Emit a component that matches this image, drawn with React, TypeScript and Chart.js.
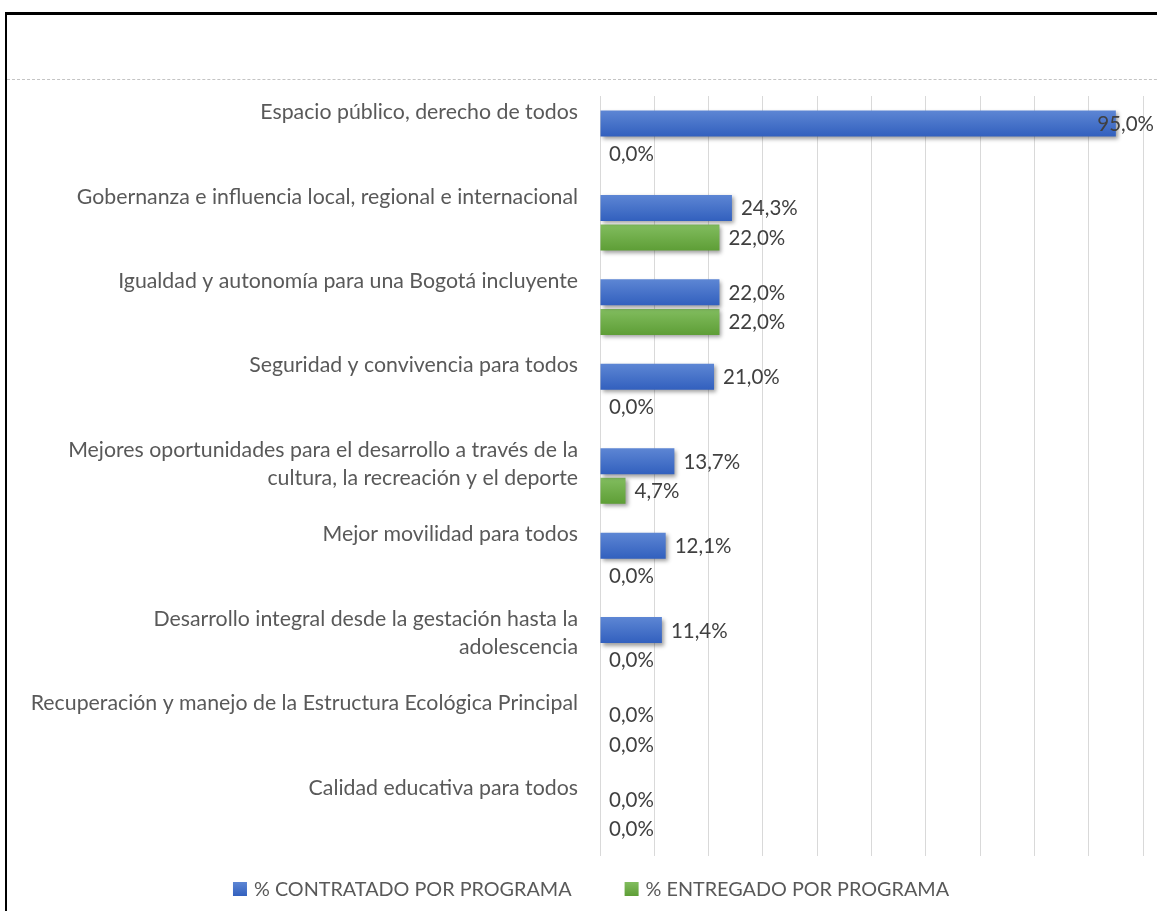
import React, { useEffect, useRef } from "react";
import { Chart, registerables } from "chart.js";

Chart.register(...registerables);

// ---------- data ----------
const categoryLabels: string[][] = [
  ["Espacio público, derecho de todos", ""],
  ["Gobernanza e influencia local, regional e internacional", ""],
  ["Igualdad y autonomía para una Bogotá incluyente", ""],
  ["Seguridad y convivencia para todos", ""],
  ["Mejores oportunidades para el desarrollo a través de la", "cultura, la recreación y el deporte"],
  ["Mejor movilidad para todos", ""],
  ["Desarrollo integral desde la gestación hasta la", "adolescencia"],
  ["Recuperación y manejo de la Estructura Ecológica Principal", ""],
  ["Calidad educativa para todos", ""],
];
const seriesNames = ["% CONTRATADO POR PROGRAMA", "% ENTREGADO POR PROGRAMA"];
const contratado = [95.0, 24.3, 22.0, 21.0, 13.7, 12.1, 11.4, 0.0, 0.0];
const entregado = [0.0, 22.0, 22.0, 0.0, 4.7, 0.0, 0.0, 0.0, 0.0];
const xMin = 0;
const xMax = 100;
const xStep = 10;

// ---------- style ----------
const FONT = "Lato, 'Open Sans', sans-serif";
const CAT_FONT_SIZE = 21.3;
const VALUE_FONT_SIZE = 20.5;
const LEGEND_FONT_SIZE = 19.8;
const LEGEND_CENTER_X = 591;
const LEGEND_CENTER_Y = 889;
const LABEL_COLOR = "#595959";
const VALUE_COLOR = "#404040";
const GRID_COLOR = "#d9d9d9";
const SERIES_COLORS = [
  { top: "#5d86d4", bottom: "#3260be", solid: "#4472c4" },
  { top: "#82bd5f", bottom: "#5e9e36", solid: "#70ad47" },
];

const fmt = (v: number) => v.toFixed(1).replace(".", ",") + "%";

const gradientPlugin = {
  id: "barGradient",
  beforeDatasetsDraw(chart: any) {
    const ctx = chart.ctx;
    chart.data.datasets.forEach((_: any, di: number) => {
      const meta = chart.getDatasetMeta(di);
      const c = SERIES_COLORS[di];
      meta.data.forEach((el: any) => {
        const h = el.height || 1;
        const g = ctx.createLinearGradient(0, el.y - h / 2, 0, el.y + h / 2);
        g.addColorStop(0, c.top);
        g.addColorStop(1, c.bottom);
        el.options = { ...el.options, backgroundColor: g };
      });
    });
  },
  beforeDatasetDraw(chart: any) {
    const ctx = chart.ctx;
    ctx.save();
    ctx.shadowColor = "rgba(0,0,0,0.38)";
    ctx.shadowBlur = 4;
    ctx.shadowOffsetX = 2;
    ctx.shadowOffsetY = 2.5;
  },
  afterDatasetDraw(chart: any) {
    chart.ctx.restore();
  },
};

const valueLabelPlugin = {
  id: "valueLabels",
  afterDatasetsDraw(chart: any) {
    const ctx = chart.ctx;
    const limit = chart.chartArea.right + 11;
    ctx.save();
    ctx.font = `${VALUE_FONT_SIZE}px ${FONT}`;
    ctx.fillStyle = VALUE_COLOR;
    ctx.textBaseline = "middle";
    ctx.textAlign = "left";
    chart.data.datasets.forEach((ds: any, di: number) => {
      const meta = chart.getDatasetMeta(di);
      meta.data.forEach((el: any, i: number) => {
        const text = fmt(ds.data[i]);
        const w = ctx.measureText(text).width;
        let x = el.x + 9;
        if (x + w > limit) x = limit - w;
        ctx.fillText(text, x, el.y + 1);
      });
    });
    ctx.restore();
  },
};

const legendPlugin = {
  id: "customLegend",
  afterDraw(chart: any) {
    const ctx = chart.ctx;
    const box = 14;
    const textGap = 7;
    const itemGap = 53;
    const cy = LEGEND_CENTER_Y;
    ctx.save();
    ctx.font = `${LEGEND_FONT_SIZE}px ${FONT}`;
    const widths = chart.data.datasets.map(
      (ds: any) => box + textGap + ctx.measureText(ds.label).width
    );
    const total = widths.reduce((a: number, b: number) => a + b, 0) + itemGap * (widths.length - 1);
    let x = LEGEND_CENTER_X - total / 2;
    chart.data.datasets.forEach((ds: any, di: number) => {
      const c = SERIES_COLORS[di];
      const g = ctx.createLinearGradient(0, cy - box / 2, 0, cy + box / 2);
      g.addColorStop(0, c.top);
      g.addColorStop(1, c.bottom);
      ctx.fillStyle = g;
      ctx.fillRect(x, cy - box / 2, box, box);
      ctx.fillStyle = LABEL_COLOR;
      ctx.textBaseline = "middle";
      ctx.textAlign = "left";
      ctx.fillText(ds.label, x + box + textGap, cy + 1);
      x += widths[di] + itemGap;
    });
    ctx.restore();
  },
};

export default function App() {
  const canvasRef = useRef<HTMLCanvasElement | null>(null);

  useEffect(() => {
    if (!canvasRef.current) return;
    const chart = new Chart(canvasRef.current, {
      type: "bar",
      data: {
        labels: categoryLabels,
        datasets: [
          {
            label: seriesNames[0],
            data: contratado,
            backgroundColor: SERIES_COLORS[0].solid,
            categoryPercentage: 0.7,
            barPercentage: 0.88,
          },
          {
            label: seriesNames[1],
            data: entregado,
            backgroundColor: SERIES_COLORS[1].solid,
            categoryPercentage: 0.7,
            barPercentage: 0.88,
          },
        ],
      },
      options: {
        indexAxis: "y",
        responsive: false,
        maintainAspectRatio: false,
        animation: false,
        events: [],
        layout: { padding: { top: 96, bottom: 55, left: 8, right: 14 } },
        plugins: {
          legend: { display: false },
          title: { display: false },
          tooltip: { enabled: false },
        },
        scales: {
          x: {
            type: "linear",
            position: "bottom",
            min: xMin,
            max: xMax,
            ticks: { display: false, stepSize: xStep },
            grid: { color: GRID_COLOR, lineWidth: 1, drawTicks: false },
            border: { display: false },
          },
          y: {
            type: "category",
            position: "left",
            grid: { display: false, drawTicks: false },
            border: { display: false },
            ticks: {
              color: LABEL_COLOR,
              font: { family: FONT, size: CAT_FONT_SIZE, lineHeight: 1.31 },
              padding: 22,
              labelOffset: -12,
              autoSkip: false,
            },
            afterFit: (scale: any) => {
              scale.width = 592;
            },
          },
        },
      },
      plugins: [gradientPlugin, valueLabelPlugin, legendPlugin],
    } as any);
    return () => chart.destroy();
  }, []);

  return (
    <div
      style={{
        position: "fixed",
        left: 0,
        top: 0,
        width: 1157,
        height: 911,
        overflow: "hidden",
        background: "#ffffff",
      }}
    >
      <div
        style={{
          position: "absolute",
          left: 5,
          top: 12,
          width: 1300,
          height: 1100,
          borderLeft: "2px solid #000",
          borderTop: "3px solid #000",
        }}
      />
      <div
        style={{
          position: "absolute",
          left: 7,
          top: 79,
          width: 1200,
          height: 0,
          borderTop: "1px dashed #c4c4c4",
        }}
      />
      <canvas
        ref={canvasRef}
        width={1157}
        height={911}
        style={{ position: "absolute", left: 0, top: 0, width: 1157, height: 911 }}
      />
    </div>
  );
}
